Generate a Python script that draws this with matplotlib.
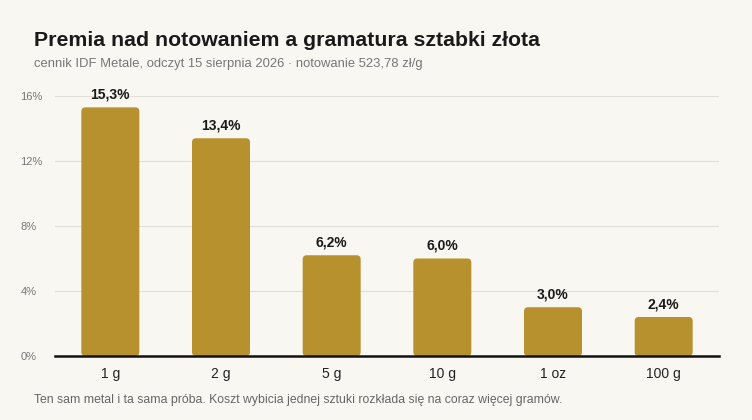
import numpy as np
import matplotlib.pyplot as plt
from matplotlib.patches import FancyBboxPatch

categories = ['1 g', '2 g', '5 g', '10 g', '1 oz', '100 g']
premium = [15.3, 13.4, 6.2, 6.0, 3.0, 2.4]
yticks = [0, 4, 8, 12, 16]

bg = '#f9f7f2'
bar_color = '#b8912f'

plt.rcParams['font.family'] = ['Liberation Sans', 'DejaVu Sans']

fig = plt.figure(figsize=(7.52, 4.2), dpi=100, facecolor=bg)
ax = fig.add_axes([55 / 752, 64 / 420, 664 / 752, 260 / 420], facecolor=bg)

x = np.arange(len(categories))
ax.set_xlim(-0.5, len(categories) - 0.5)
ax.set_ylim(0, 16)

# rounded bars: keep the corner radius round despite different x/y scales
px_x = 664 / len(categories)
px_y = 260 / 16
aspect = px_x / px_y
width = 58 / px_x
for xi, v in zip(x, premium):
    patch = FancyBboxPatch((xi - width / 2, 0), width, v,
                           boxstyle='round,pad=0,rounding_size=%f' % (4 / px_x),
                           mutation_aspect=aspect, fc=bar_color, ec='none', zorder=2)
    ax.add_patch(patch)
    ax.annotate(('%.1f%%' % v).replace('.', ','), (xi, v), xytext=(0, 4),
                textcoords='offset points', ha='center', va='bottom',
                fontsize=10, fontweight='bold', color='#1a1a1a')

ax.set_yticks(yticks)
ax.set_yticklabels(['%d%%' % t for t in yticks], ha='left', fontsize=8, color='#777777')
ax.tick_params(axis='y', length=0, pad=25)
ax.set_xticks(x)
ax.set_xticklabels(categories, fontsize=10, color='#222222', va='baseline')
ax.tick_params(axis='x', length=0, pad=16)
ax.grid(axis='y', color='#e2dfd9', lw=0.8, zorder=0)
for s in ['top', 'right', 'left']:
    ax.spines[s].set_visible(False)
ax.spines['bottom'].set_color('#111111')
ax.spines['bottom'].set_linewidth(1.8)
ax.spines['bottom'].set_zorder(3)

fig.text(34 / 752, 1 - 40 / 420, 'Premia nad notowaniem a gramatura sztabki złota',
         fontsize=15.3, fontweight='bold', color='#1a1a1a', va='center')
fig.text(34 / 752, 1 - 64 / 420, 'cennik IDF Metale, odczyt 15 sierpnia 2026 · notowanie 523,78 zł/g',
         fontsize=9.4, color='#777777', va='center')
fig.text(34 / 752, 1 - 400 / 420,
         'Ten sam metal i ta sama próba. Koszt wybicia jednej sztuki rozkłada się na coraz więcej gramów.',
         fontsize=8.8, color='#666666', va='center')

fig.savefig('out.png', dpi=100, facecolor=bg)
